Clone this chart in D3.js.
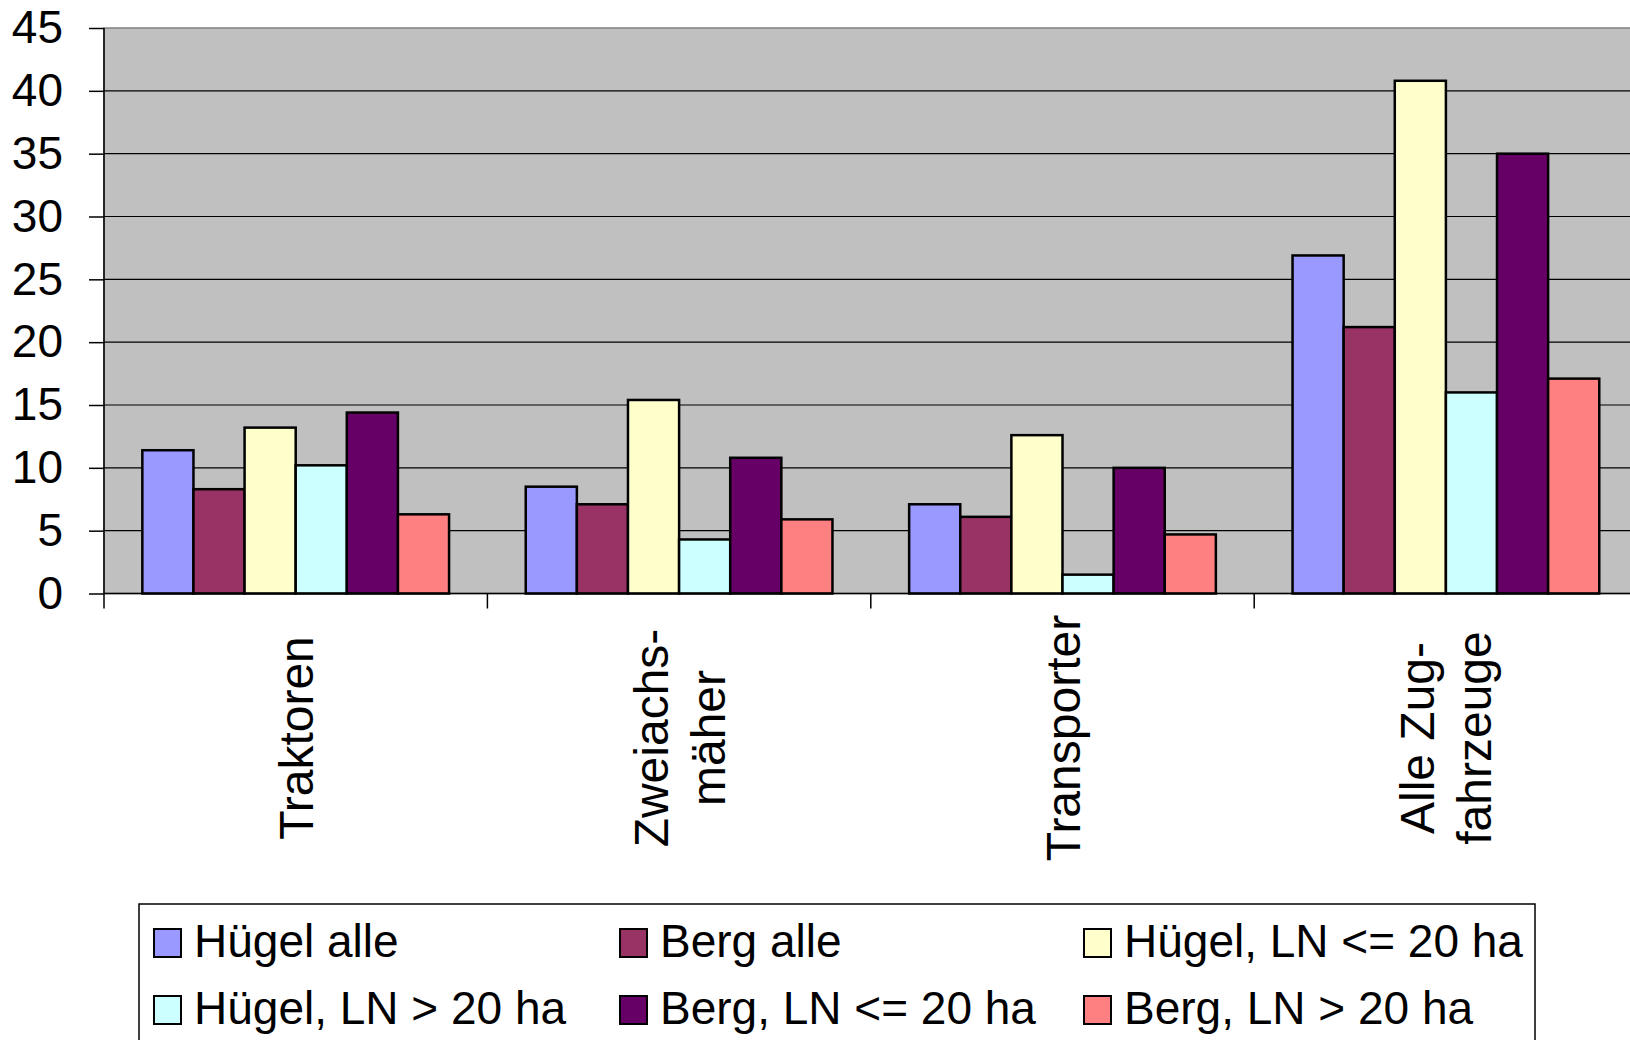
<!DOCTYPE html>
<html>
<head>
<meta charset="utf-8">
<script src="https://cdn.jsdelivr.net/npm/d3@7"></script>
<style>
  body { margin: 0; background: #fff; }
  text { font-family: "Liberation Sans", Arial, sans-serif; fill: #000; }
</style>
</head>
<body>
<script>
'use strict';

// data
var categories = [["Traktoren"], ["Zweiachs-", "mäher"], ["Transporter"], ["Alle Zug-", "fahrzeuge"]];
var seriesNames = ["Hügel alle", "Berg alle", "Hügel, LN <= 20 ha", "Hügel, LN > 20 ha", "Berg, LN <= 20 ha", "Berg, LN > 20 ha"];
var seriesColors = ["#9999FF", "#993366", "#FFFFCC", "#CCFFFF", "#660066", "#FF8080"];
var huegelAlle = [11.4, 8.5, 7.1, 26.9];
var bergAlle = [8.3, 7.1, 6.1, 21.2];
var huegelKlein = [13.2, 15.4, 12.6, 40.8];
var huegelGross = [10.2, 4.3, 1.5, 16.0];
var bergKlein = [14.4, 10.8, 10.0, 35.0];
var bergGross = [6.3, 5.9, 4.7, 17.1];
var yTicks = [0, 5, 10, 15, 20, 25, 30, 35, 40, 45];

(function() {
    var width = 1630,
        height = 1040;
    var plot = { left: 104, top: 28, bottom: 593.5, catWidth: 383.4 };

    var seriesValues = [huegelAlle, bergAlle, huegelKlein, huegelGross, bergKlein, bergGross];
    var catKeys = categories.map(function(c, i) { return i; });

    var svg = d3.select("body")
        .append("svg")
        .attr("width", width)
        .attr("height", height);

    var x0 = d3.scaleBand()
        .domain(catKeys)
        .range([plot.left, plot.left + plot.catWidth * categories.length])
        .padding(0);

    var x1 = d3.scaleBand()
        .domain(d3.range(seriesNames.length))
        .range([0, x0.bandwidth()])
        .paddingInner(0)
        .paddingOuter(0.75);

    var y = d3.scaleLinear()
        .domain([0, 45])
        .range([plot.bottom, plot.top]);

    var plotRight = x0.range()[1];

    // grey plot area
    svg.append("rect")
        .attr("x", plot.left)
        .attr("y", plot.top)
        .attr("width", plotRight - plot.left)
        .attr("height", plot.bottom - plot.top)
        .attr("fill", "#C0C0C0")
        .attr("stroke", "#808080")
        .attr("stroke-width", 1.5);

    // gridlines
    svg.append("g")
        .selectAll("line")
        .data(yTicks.filter(function(t) { return t > 0 && t < 45; }))
        .enter()
        .append("line")
        .attr("x1", plot.left)
        .attr("x2", plotRight)
        .attr("y1", function(d) { return y(d); })
        .attr("y2", function(d) { return y(d); })
        .attr("stroke", "#000")
        .attr("stroke-width", 1.2);

    // y axis
    var yAxis = svg.append("g")
        .attr("transform", "translate(" + plot.left + ",0)")
        .call(d3.axisLeft(y).tickValues(yTicks).tickSize(15).tickPadding(26));
    yAxis.select(".domain").remove();
    yAxis.selectAll(".tick line").attr("stroke", "#000").attr("stroke-width", 1.5);
    yAxis.selectAll(".tick text")
        .attr("font-size", "46px")
        .attr("font-family", "'Liberation Sans', Arial, sans-serif")
        .attr("fill", "#000");
    svg.append("line")
        .attr("x1", plot.left).attr("x2", plot.left)
        .attr("y1", plot.top).attr("y2", plot.bottom + 15)
        .attr("stroke", "#000").attr("stroke-width", 1.5);

    // bars
    var groups = svg.append("g")
        .selectAll("g")
        .data(catKeys)
        .enter()
        .append("g")
        .attr("transform", function(c) { return "translate(" + x0(c) + ",0)"; });

    groups.selectAll("rect")
        .data(function(c) {
            return seriesValues.map(function(vals, s) { return { s: s, v: vals[c] }; });
        })
        .enter()
        .append("rect")
        .attr("x", function(d) { return x1(d.s); })
        .attr("y", function(d) { return y(d.v); })
        .attr("width", x1.bandwidth())
        .attr("height", function(d) { return y(0) - y(d.v); })
        .attr("fill", function(d) { return seriesColors[d.s]; })
        .attr("stroke", "#000")
        .attr("stroke-width", 2.5);

    // category axis
    svg.append("line")
        .attr("x1", plot.left).attr("x2", plotRight)
        .attr("y1", plot.bottom).attr("y2", plot.bottom)
        .attr("stroke", "#000").attr("stroke-width", 1.5);
    svg.append("g")
        .selectAll("line")
        .data(catKeys.slice(1))
        .enter()
        .append("line")
        .attr("x1", function(c) { return x0(c); })
        .attr("x2", function(c) { return x0(c); })
        .attr("y1", plot.bottom)
        .attr("y2", plot.bottom + 15)
        .attr("stroke", "#000")
        .attr("stroke-width", 1.5);

    // rotated category labels
    var lineH = 57;
    var labels = svg.append("g")
        .selectAll("text")
        .data(catKeys)
        .enter()
        .append("text")
        .attr("font-size", "48px")
        .attr("text-anchor", "middle")
        .attr("transform", function(c) {
            return "translate(" + (x0(c) + x0.bandwidth() / 2) + ",738) rotate(-90)";
        });
    labels.selectAll("tspan")
        .data(function(c) {
            var n = categories[c].length;
            return categories[c].map(function(t, i) { return { t: t, off: 17 + (i - (n - 1) / 2) * lineH }; });
        })
        .enter()
        .append("tspan")
        .attr("x", 0)
        .attr("y", function(d) { return d.off; })
        .text(function(d) { return d.t; });

    // legend
    var legend = svg.append("g");
    legend.append("rect")
        .attr("x", 139)
        .attr("y", 904)
        .attr("width", 1396)
        .attr("height", 200)
        .attr("fill", "#fff")
        .attr("stroke", "#000")
        .attr("stroke-width", 1.5);

    var colX = [154, 620, 1084];
    var rowY = [957, 1024];
    var items = legend.selectAll("g.item")
        .data(seriesNames)
        .enter()
        .append("g")
        .attr("class", "item")
        .attr("transform", function(d, i) {
            return "translate(" + colX[i % 3] + "," + rowY[Math.floor(i / 3)] + ")";
        });
    items.append("rect")
        .attr("x", 0)
        .attr("y", -28)
        .attr("width", 27)
        .attr("height", 28)
        .attr("fill", function(d, i) { return seriesColors[i]; })
        .attr("stroke", "#000")
        .attr("stroke-width", 2);
    items.append("text")
        .attr("x", 40)
        .attr("y", 0)
        .attr("font-size", "46px")
        .text(function(d) { return d; });
})();
</script>
</body>
</html>
